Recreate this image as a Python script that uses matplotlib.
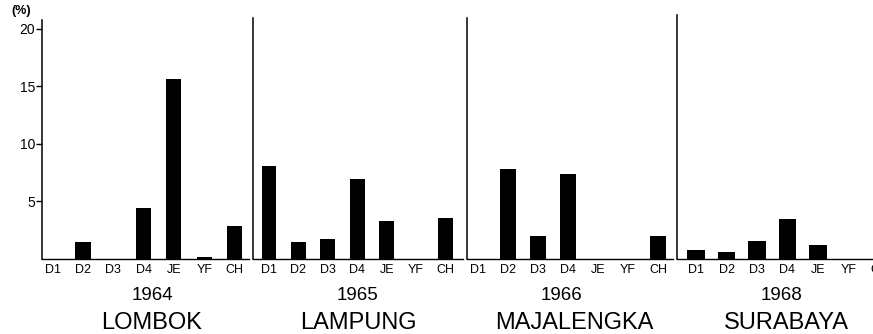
import matplotlib

matplotlib.use("Agg")
import matplotlib.pyplot as plt

plt.rcParams["font.family"] = ["Liberation Sans", "DejaVu Sans"]

categories = ["D1", "D2", "D3", "D4", "JE", "YF", "CH"]
years = ["1964", "1965", "1966", "1968"]
places = ["LOMBOK", "LAMPUNG", "MAJALENGKA", "SURABAYA"]

lombok = [0, 1.4, 0, 4.4, 15.6, 0.1, 2.8]
lampung = [8.1, 1.4, 1.7, 6.9, 3.3, 0, 3.5]
majalengka = [0, 7.8, 2.0, 7.4, 0, 0, 2.0]
surabaya = [0.7, 0.6, 1.5, 3.4, 1.2, 0, 0]
series = [lombok, lampung, majalengka, surabaya]

W, H = 873, 334
fig = plt.figure(figsize=(W / 100, H / 100), dpi=100)

base_y = 258.5
px_per_unit = 11.475

# (left px, right px, top px, first bar offset px, spacing px, bar width)
layout = [
    (42, 249, 20, 10.7, 30.3, 0.5),
    (253, 463, 18, 16, 29.4, 0.51),
    (467, 673, 18, 11, 30.0, 0.52),
    (677, 887, 15, 19, 30.5, 0.57),
]
title_x = [(152, 152), (357, 358), (562, 574), (781, 786)]

for i, (left, right, top, off, sp, bw) in enumerate(layout):
    ax = fig.add_axes([left / W, 1 - base_y / H, (right - left) / W, (base_y - top) / H])
    x = range(len(categories))
    ax.bar(x, series[i], width=bw, color="black")
    ax.set_xlim(-off / sp, -off / sp + (right - left) / sp)
    ax.set_ylim(0, (base_y - top) / px_per_unit)
    for s in ["top", "right"]:
        ax.spines[s].set_visible(False)
    ax.spines["left"].set_linewidth(1.1)
    ax.spines["bottom"].set_linewidth(1.0)
    ax.set_xticks(list(x))
    ax.set_xticklabels(categories, fontsize=9)
    ax.tick_params(axis="x", length=0, pad=4)
    if i == 0:
        ax.set_yticks([5, 10, 15, 20])
        ax.tick_params(axis="y", length=4, width=1, pad=1, labelsize=10)
    else:
        ax.set_yticks([])
    ax.patch.set_alpha(0)

    yx, px = title_x[i]
    fig.text(yx / W, 1 - 296 / H, years[i], fontsize=13.5, ha="center", va="center")
    fig.text(px / W, 1 - 323 / H, places[i], fontsize=17, ha="center", va="center")

fig.text(21 / W, 1 - 11 / H, "(%)", fontsize=9, fontweight="bold", ha="center", va="center")

fig.savefig("out.png", dpi=100)
